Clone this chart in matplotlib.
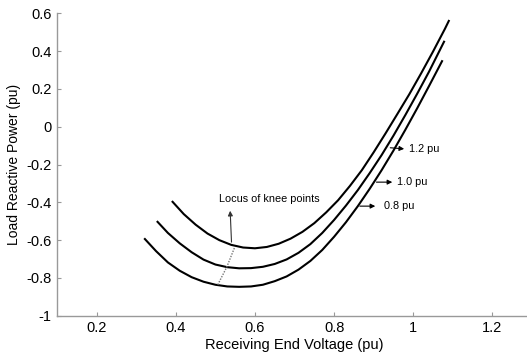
import numpy as np
import matplotlib
matplotlib.use("Agg")
import matplotlib.pyplot as plt

plt.rcParams['font.family'] = ['Liberation Sans', 'DejaVu Sans']
plt.rcParams['axes.unicode_minus'] = False

# curves (receiving end voltage, load reactive power)
v_12 = [0.390, 0.42, 0.45, 0.48, 0.51, 0.54, 0.57, 0.60, 0.63, 0.66, 0.69, 0.72, 0.75,
        0.78, 0.81, 0.84, 0.87, 0.90, 0.93, 0.96, 0.99, 1.02, 1.05, 1.08, 1.091]
q_12 = [-0.393, -0.462, -0.518, -0.565, -0.600, -0.625, -0.639, -0.643, -0.636, -0.619, -0.592, -0.556, -0.510,
        -0.453, -0.389, -0.313, -0.230, -0.135, -0.035, 0.068, 0.172, 0.283, 0.398, 0.518, 0.565]

v_10 = [0.352, 0.38, 0.41, 0.44, 0.47, 0.50, 0.53, 0.56, 0.59, 0.62, 0.65, 0.68, 0.71,
        0.74, 0.77, 0.80, 0.83, 0.86, 0.89, 0.92, 0.95, 0.98, 1.01, 1.04, 1.079]
q_10 = [-0.499, -0.562, -0.617, -0.664, -0.703, -0.729, -0.743, -0.749, -0.748, -0.741, -0.726, -0.702, -0.667,
        -0.621, -0.562, -0.493, -0.417, -0.335, -0.245, -0.150, -0.047, 0.062, 0.175, 0.292, 0.455]

v_08 = [0.320, 0.35, 0.38, 0.41, 0.44, 0.47, 0.50, 0.53, 0.56, 0.59, 0.62, 0.65, 0.68,
        0.71, 0.74, 0.77, 0.80, 0.83, 0.86, 0.89, 0.92, 0.95, 0.98, 1.01, 1.04, 1.074]
q_08 = [-0.590, -0.658, -0.718, -0.762, -0.796, -0.820, -0.836, -0.845, -0.847, -0.845, -0.836, -0.817, -0.792,
        -0.756, -0.710, -0.652, -0.582, -0.505, -0.420, -0.328, -0.230, -0.126, -0.016, 0.098, 0.216, 0.352]

# knee point locus
knee_v = [0.506, 0.529, 0.549]
knee_q = [-0.836, -0.741, -0.636]

labels = ["1.2 pu", "1.0 pu", "0.8 pu"]
x_ticks = [0.2, 0.4, 0.6, 0.8, 1.0, 1.2]
y_ticks = [-1, -0.8, -0.6, -0.4, -0.2, 0, 0.2, 0.4, 0.6]

fig = plt.figure(figsize=(5.27, 3.52), dpi=100)
ax = fig.add_axes([0.1084, 0.103, 0.9010, 0.859])

for v, q in [(v_12, q_12), (v_10, q_10), (v_08, q_08)]:
    ax.plot(v, q, color="black", lw=1.5, solid_capstyle="butt")

ax.plot(knee_v, knee_q, color="#777777", lw=1.0, ls=(0, (1, 1)))
ax.annotate("", xy=(0.537, -0.43), xytext=(0.541, -0.625),
            arrowprops=dict(arrowstyle="-|>", lw=0.8, color="#333333", mutation_scale=7))
ax.text(0.509, -0.383, "Locus of knee points", fontsize=7.8, va="center", ha="left")

# curve labels with arrows
arrow_pos = [((0.935, -0.110), (0.984, -0.118), (0.990, -0.120)),
             ((0.900, -0.293), (0.954, -0.293), (0.958, -0.293)),
             ((0.858, -0.420), (0.911, -0.420), (0.927, -0.420))]
for lab, (a, b, t) in zip(labels, arrow_pos):
    ax.annotate("", xy=b, xytext=a,
                arrowprops=dict(arrowstyle="-|>", lw=0.8, color="black", mutation_scale=7))
    ax.text(t[0], t[1], lab, fontsize=7.8, va="center", ha="left")

ax.set_xlim(0.1, 1.3)
ax.set_ylim(-1, 0.6)
ax.set_xticks(x_ticks)
ax.set_yticks(y_ticks)
ax.set_xticklabels(["%g" % t for t in x_ticks])
ax.set_yticklabels(["%g" % t for t in y_ticks])
ax.tick_params(direction="in", length=3, color="#999999", labelsize=10.5, pad=4)

for s in ["top", "right"]:
    ax.spines[s].set_visible(False)
for s in ["left", "bottom"]:
    ax.spines[s].set_color("#999999")
    ax.spines[s].set_linewidth(1.0)

ax.set_xlabel("Receiving End Voltage (pu)", fontsize=10.5, labelpad=2)
ax.set_ylabel("Load Reactive Power (pu)", fontsize=10, labelpad=4)

fig.savefig("out.png", dpi=100)
